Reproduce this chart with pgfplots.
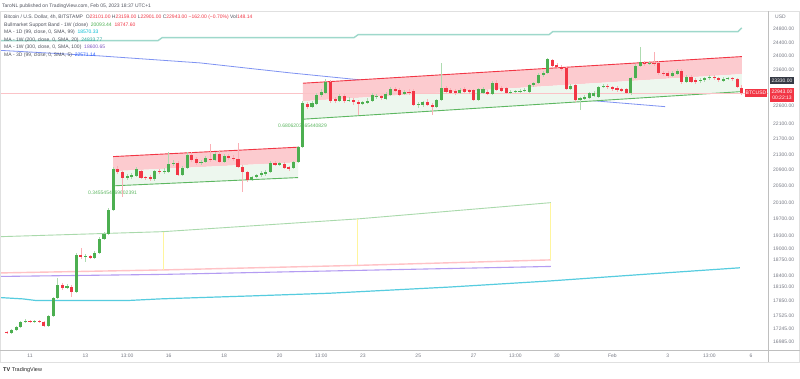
\documentclass[border=0pt]{standalone}
\usepackage{pgfplots}
\pgfplotsset{compat=1.18}
\usepackage{pgfplotstable}
\usepackage{fontspec}
\setmainfont{Liberation Sans}
\newcommand\tvf{\fontsize{5}{6}\selectfont}
\definecolor{tvred}{HTML}{F23645}
\definecolor{cgreen}{HTML}{4CAF50}
\definecolor{chpink}{HTML}{FCCBCF}
\definecolor{chgreen}{HTML}{EDF7EE}
\definecolor{chline}{HTML}{5DB761}
\definecolor{tealma}{HTML}{9ED8CB}
\definecolor{tealtxt}{HTML}{26A69A}
\definecolor{cyanma}{HTML}{56CCDF}
\definecolor{cyantxt}{HTML}{00BCD4}
\definecolor{purplema}{HTML}{B49CF2}
\definecolor{purpletxt}{HTML}{7E57C2}
\definecolor{bluema}{HTML}{7F93F2}
\definecolor{bluetxt}{HTML}{2962FF}
\definecolor{bandgreen}{HTML}{A9D9AB}
\definecolor{bandpink}{HTML}{FFC2C6}
\definecolor{yel}{HTML}{FFF59D}
\definecolor{tvgrey}{HTML}{787B86}
\definecolor{tvdark}{HTML}{50535E}
\definecolor{boxdark}{HTML}{363A45}

\pgfplotstableread{
k o h l c
0 17183 17203 17141 17162
1 17162 17245 17141 17224
2 17224 17307 17203 17287
3 17287 17412 17266 17391
4 17391 17455 17370 17412
5 17412 17433 17370 17391
6 17391 17433 17370 17412
7 17412 17433 17370 17391
8 17391 17412 17287 17307
9 17307 17540 17287 17519
10 17519 17926 17498 17905
11 17905 18344 17883 18189
12 18189 18233 18079 18123
13 18123 18211 18101 18167
14 18145 18189 17926 18035
15 18035 18908 18013 18862
16 18862 19022 18771 18817
17 18817 18885 18703 18839
18 18839 18862 18771 18794
19 18794 18953 18771 18908
20 18908 19278 18885 19231
21 19231 19395 19208 19348
22 19348 19966 19325 19918
23 19918 20983 19894 20932
24 20932 21009 20806 20856
25 20856 20882 20234 20705
26 20705 20806 20655 20756
27 20730 20831 20680 20781
28 20756 20983 20730 20932
29 20882 20907 20680 20705
30 20730 20756 20655 20705
31 20730 20781 20630 20680
32 20680 20907 20630 20882
33 20882 20932 20806 20856
34 20856 20958 20806 20882
35 20856 21368 20831 21060
36 21060 21162 21009 21085
37 21085 21136 20756 20781
38 20781 21009 20756 20958
39 20958 21368 20932 21290
40 21290 21368 21111 21162
41 21187 21239 21034 21085
42 21085 21162 21034 21111
43 21111 21265 21085 21213
44 21187 21576 21111 21162
45 21162 21368 21136 21316
46 21316 21393 21085 21111
47 21111 21316 21085 21265
48 21265 21316 21162 21213
49 21213 21290 21136 21187
50 21187 21602 20958 20983
51 20983 21034 20357 20856
52 20856 20882 20605 20655
53 20655 20756 20630 20730
54 20730 20806 20705 20781
55 20781 20882 20730 20831
56 20806 20907 20756 20856
57 20856 21136 20831 21085
58 21085 21136 21009 21034
59 21034 21111 21009 21085
60 21060 21111 20932 20958
61 20983 21009 20882 20932
62 20958 21136 20932 21111
63 21111 21524 21085 21498
64 21498 22729 21472 22674
65 22647 22702 22510 22565
66 22565 22729 22537 22674
67 22647 22951 22619 22895
68 22895 23062 22840 22979
69 22951 23343 22923 23258
70 23258 23315 22674 22729
71 22784 22840 22674 22729
72 22729 22923 22702 22868
73 22868 22923 22674 22729
74 22729 22840 22702 22757
75 22757 22812 22619 22702
76 22702 22757 22348 22647
77 22647 22729 22619 22702
78 22674 22812 22647 22729
79 22729 22951 22702 22895
80 22840 22923 22784 22868
81 22868 22895 22757 22812
82 22784 22979 22757 22923
83 22895 23118 22868 23062
84 23062 23118 22979 23006
85 23034 23090 22868 22895
86 22923 23034 22895 22979
87 22979 23062 22895 22951
88 23006 23062 22592 22619
89 22619 22702 22537 22647
90 22619 22729 22565 22702
91 22702 22784 22592 22619
92 22619 22674 22348 22565
93 22565 22784 22537 22757
94 22757 23799 22729 23090
95 23090 23146 22951 22979
96 23034 23090 22923 22951
97 23006 23062 22895 22951
98 22951 23090 22923 23034
99 23062 23118 22951 22979
100 23034 23062 22923 22979
101 23034 23062 22729 22757
102 22757 23090 22729 23062
103 22951 23118 22923 23062
104 22979 23034 22895 22923
105 22923 23287 22895 23230
106 23230 23315 23006 23034
107 23090 23146 22979 23006
108 23090 23118 22923 22951
109 22951 23034 22923 22979
110 22979 23034 22951 23006
111 22979 23062 22951 23006
112 23006 23090 22979 23034
113 22979 23202 22951 23174
114 23174 23258 23118 23230
115 23230 23513 23202 23456
116 23456 23570 23400 23513
117 23513 23944 23485 23915
118 23886 23915 23684 23713
119 23742 23799 23656 23684
120 23684 23742 23570 23627
121 23656 23684 23034 23062
122 23062 23202 23034 23146
123 23174 23202 22702 22757
124 22757 22840 22483 22812
125 22784 22895 22757 22840
126 22812 22979 22784 22951
127 22868 23006 22840 22951
128 22840 23146 22812 23118
129 23118 23202 23090 23146
130 23146 23202 23062 23118
131 23118 23146 23006 23062
132 23090 23146 22979 23034
133 23062 23090 22979 23006
134 23062 23090 22923 22951
135 22951 23400 22895 23371
136 23371 23771 23343 23713
137 23713 24265 23684 23828
138 23799 23857 23713 23771
139 23771 23857 23742 23799
140 23799 24119 23713 23771
141 23799 23857 23456 23513
142 23513 23570 23428 23485
143 23513 23570 23371 23428
144 23428 23570 23400 23513
145 23485 23627 23456 23570
146 23570 23627 23202 23258
147 23258 23456 23230 23400
148 23400 23456 23230 23258
149 23315 23371 23202 23258
150 23287 23371 23230 23315
151 23315 23400 23258 23371
152 23371 23456 23315 23400
153 23400 23456 23315 23371
154 23371 23400 23258 23315
155 23287 23400 23258 23343
156 23343 23400 23315 23371
157 23371 23400 23287 23343
158 23343 23371 23090 23118
159 23101 23159 22901 22943
}\candles

\pgfplotsset{candle/.style={draw=none, mark=none, error bars/.cd, y dir=plus, y explicit, error mark=none}}

\begin{document}
\begin{tikzpicture}[x=1pt,y=1pt]
\useasboundingbox (0,0) rectangle (800,378);
\fill[white] (0,0) rectangle (800,378);
\begin{axis}[
  at={(1pt,28pt)}, anchor=south west,
  scale only axis, width=767pt, height=338pt,
  xmin=-1.28, xmax=164.67,
  ymode=log, ymin=16811, ymax=25316,
  axis line style={draw=none},
  major tick length=0pt,
  xtick={5,17,26,35,47,59,68,77,89,101,110,119,131,143,152,161},
  xticklabels={11,13,13:00,16,18,20,13:00,23,25,27,13:00,30,Feb,3,13:00,6},
  xticklabel style={anchor=center, yshift=-6pt, font=\tvf, text=tvgrey},
  ytick={24800,24400,24000,23600,22600,22100,21700,21300,20900,20500,20100,19700,19300,19000,18750,18400,18150,17850,17525,17245,16985},
  yticklabels={24800.00,24400.00,24000.00,23600.00,22600.00,22100.00,21700.00,21300.00,20900.00,20500.00,20100.00,19700.00,19300.00,19000.00,18750.00,18400.00,18150.00,17850.00,17525.00,17245.00,16985.00},
  yticklabel pos=right,
  yticklabel style={anchor=west, inner sep=0pt, xshift=5pt, font=\tvf, text=tvgrey},
]
% weekly MA 200 (teal, stepped)
\addplot[tealma, line width=1.4pt] coordinates {(-1.3,24451) (32.7,24451) (33.6,24540) (75.1,24540) (76.0,24629) (117.3,24629) (118.1,24719) (158.2,24719) (159.0,24830)};
% bull market support band
\addplot[bandgreen, line width=0.9pt] coordinates {(-1.3,19284) (33.8,19401) (75.8,19702) (117.7,20093)};
\addplot[bandpink, line width=1.4pt] coordinates {(-1.3,18455) (33.8,18522) (75.8,18624) (117.7,18748)};
\addplot[purplema, line width=1.1pt] coordinates {(-1.3,18377) (33.8,18421) (75.8,18511) (117.7,18601)};
\addplot[yel, line width=0.9pt] coordinates {(33.8,19401) (33.8,18522)};
\addplot[yel, line width=0.9pt] coordinates {(75.8,19702) (75.8,18624)};
\addplot[yel, line width=0.9pt] coordinates {(117.7,20093) (117.7,18748)};
% daily MA 99 (cyan)
\addplot[cyanma, line width=1.2pt] coordinates {(-1.3,17910) (3.5,17883) (6.1,17850) (26.6,17850) (33.1,17883) (37.4,17898) (52.6,17947) (69.9,18006) (95.9,18144) (117.5,18276) (139.1,18432) (158.6,18570)};
% 3D MA (blue)
\addplot[bluema, line width=0.8pt] coordinates {(-1.3,24162) (20.1,24002) (41.8,23799) (61.3,23513) (95.9,23062) (142.4,22571)};
% channels
\addplot[draw=none, fill=chpink] coordinates {(22.96,21246) (62.98,21490) (62.98,21098) (22.96,20873)} -- cycle;
\addplot[draw=none, fill=chgreen] coordinates {(22.96,20873) (62.98,21098) (62.98,20713) (22.96,20506)} -- cycle;
\addplot[tvred, line width=0.9pt] coordinates {(22.96,21246) (62.98,21490)};
\addplot[chline, line width=0.9pt] coordinates {(22.96,20506) (62.98,20713)};
\addplot[draw=none, fill=chpink] coordinates {(64.06,23221) (159.0,23982) (159.0,23479) (64.06,22721)} -- cycle;
\addplot[draw=none, fill=chgreen] coordinates {(64.06,22721) (159.0,23479) (159.0,22987) (64.06,22231)} -- cycle;
\addplot[tvred, line width=0.9pt] coordinates {(64.06,23221) (159.0,23982)};
\addplot[chline, line width=0.9pt] coordinates {(64.06,22231) (159.0,22987)};
\node[font=\tvf, text=chline] at (axis cs:22.85,20332) {0.3455454669602391};
\node[font=\tvf, text=chline] at (axis cs:63.95,22051) {0.6806203165440829};
% last price line
\addplot[tvred!30, line width=0.5pt] coordinates {(-1.3,22943) (164.7,22943)};
% wicks
\addplot[candle, error bar style={line width=0.7pt, draw=cgreen!45}]
  table[x=k, y=l, y error plus expr={\thisrow{c}>=\thisrow{o} ? \thisrow{h}-\thisrow{l} : 0}] {\candles};
\addplot[candle, error bar style={line width=0.7pt, draw=tvred!40}]
  table[x=k, y=l, y error plus expr={\thisrow{c}<\thisrow{o} ? \thisrow{h}-\thisrow{l} : 0}] {\candles};
% bodies
\addplot[candle, error bar style={line width=3.1pt, draw=cgreen}]
  table[x=k, y expr={min(\thisrow{o},\thisrow{c})}, y error plus expr={\thisrow{c}>=\thisrow{o} ? \thisrow{c}-\thisrow{o} : 0}] {\candles};
\addplot[candle, error bar style={line width=3.1pt, draw=tvred}]
  table[x=k, y expr={min(\thisrow{o},\thisrow{c})}, y error plus expr={\thisrow{c}<\thisrow{o} ? \thisrow{o}-\thisrow{c} : 0}] {\candles};
\end{axis}
% frame
\draw[black!12, line width=0.6pt] (0.3,16) rectangle (799.7,367);
\draw[black!25, line width=1pt] (0,28) -- (800,28);
\draw[black!25, line width=1pt] (768,16) -- (768,367);
% right axis labels
\node[font=\tvf, text=tvgrey, anchor=west, inner sep=0pt] at (775,361) {USD};
\fill[boxdark] (770,293.5) rectangle (794,300.5);
\node[font=\tvf, text=white, inner sep=0pt] at (782,297) {23330.00};
\fill[tvred] (770,276) rectangle (794,290);
\node[font=\tvf, text=white, inner sep=0pt] at (782,286.5) {22943.00};
\node[font=\tvf, text=white, inner sep=0pt] at (782,280.5) {00:22:13};
\fill[tvred] (745,281) rectangle (767,289);
\node[font=\tvf, text=white, inner sep=0pt] at (756,285) {BTCUSD};
% header and legend
\node[font=\tvf, text=tvdark, anchor=west, inner sep=0pt] at (2,372) {TaroNL published on TradingView.com, Feb 05, 2023 18:37 UTC+1};
\node[font=\tvf, text=tvdark, anchor=west, inner sep=0pt] at (4,360.3) {Bitcoin / U.S. Dollar, 4h, BITSTAMP\ \ O\textcolor{tvred}{23101.00} H\textcolor{tvred}{23159.00} L\textcolor{tvred}{22901.00} C\textcolor{tvred}{22943.00} \textcolor{tvred}{−162.00 (−0.70\%)} Vol\textcolor{tvred}{148.14}};
\node[font=\tvf, text=tvdark, anchor=west, inner sep=0pt] at (4,353) {Bullmarket Support Band - 1W (close)\ \ \textcolor{cgreen}{20093.44}\ \ \textcolor{tvred}{18747.60}};
\node[font=\tvf, text=tvdark, anchor=west, inner sep=0pt] at (4,345.3) {MA - 1D (99, close, 0, SMA, 99)\ \ \textcolor{cyantxt}{18570.33}};
\node[font=\tvf, text=tvdark, anchor=west, inner sep=0pt] at (4,338) {MA - 1W (200, close, 0, SMA, 20)\ \ \textcolor{tealtxt}{24833.77}};
\node[font=\tvf, text=tvdark, anchor=west, inner sep=0pt] at (4,330.7) {MA - 1W (300, close, 0, SMA, 100)\ \ \textcolor{purpletxt}{18600.65}};
\node[font=\tvf, text=tvdark, anchor=west, inner sep=0pt] at (4,323) {MA - 3D (99, close, 0, SMA, 5)\ \ \textcolor{bluetxt}{22571.14}};
% footer
\node[font=\fontsize{5.5}{6}\selectfont, text=black!85, anchor=west, inner sep=0pt] at (3,8) {\textbf{TV} TradingView};
\end{tikzpicture}
\end{document}
